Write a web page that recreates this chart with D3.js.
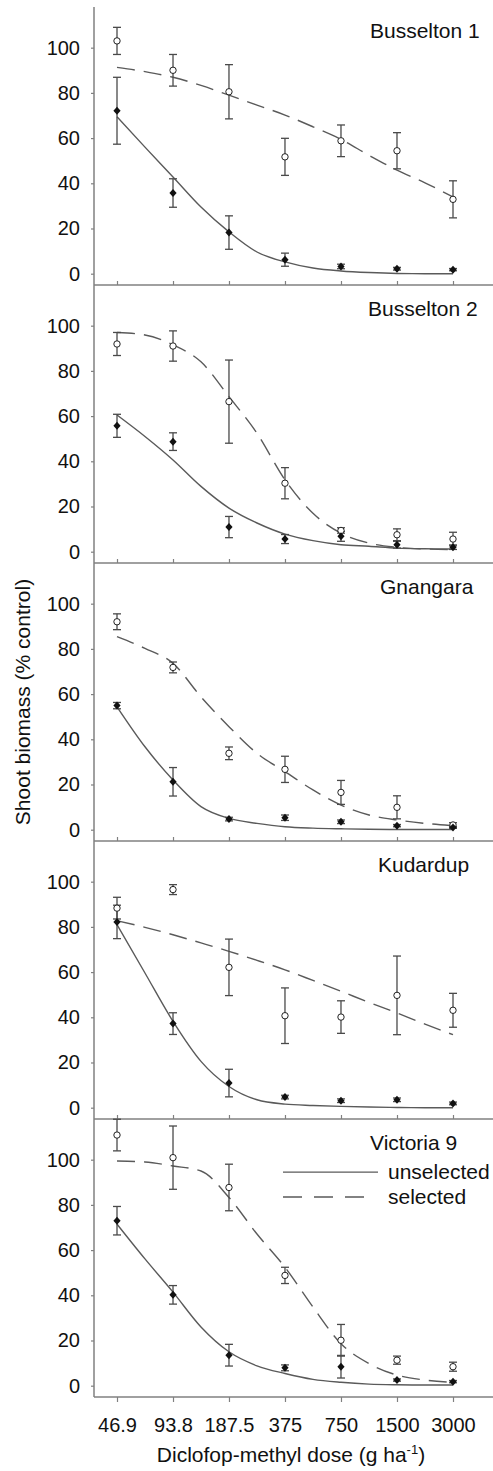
<!DOCTYPE html>
<html>
<head>
<meta charset="utf-8">
<script src="https://cdn.jsdelivr.net/npm/d3@7"></script>
<style>
  html, body { margin: 0; padding: 0; background: #fff; }
  svg { display: block; font-family: "Liberation Sans", Arial, sans-serif; }
</style>
</head>
<body>
<svg id="chart" width="493" height="1471"></svg>
<script>
// ---------------- DATA ----------------
const doses = [46.9, 93.8, 187.5, 375, 750, 1500, 3000];
const doseLabels = ["46.9", "93.8", "187.5", "375", "750", "1500", "3000"];
const populations = ["Busselton 1", "Busselton 2", "Gnangara", "Kudardup", "Victoria 9"];
const yTicks = [0, 20, 40, 60, 80, 100];

// observed means and error (± SE) — selected (open circles)
const selectedMean = [
  [103.0, 90.0, 80.5, 51.7, 58.8, 54.4, 32.9],
  [91.9, 91.0, 66.4, 30.3, 9.4, 7.5, 5.6],
  [92.0, 71.8, 33.8, 26.7, 16.5, 9.9, 2.1],
  [88.3, 96.5, 62.1, 40.7, 40.1, 49.7, 43.1],
  [110.9, 100.9, 87.7, 48.8, 20.1, 11.3, 8.4]
];
const selectedErr = [
  [6.0, 7.0, 12.0, 8.2, 7.0, 8.0, 8.2],
  [5.1, 6.7, 18.4, 6.9, 1.2, 2.6, 3.0],
  [3.5, 2.4, 2.8, 5.8, 5.3, 5.1, 1.0],
  [4.8, 2.2, 12.5, 12.3, 7.2, 17.4, 7.5],
  [7.0, 14.0, 10.3, 3.6, 7.0, 1.8, 2.0]
];
// unselected (filled diamonds)
const unselectedMean = [
  [72.1, 35.7, 18.2, 6.2, 3.2, 2.2, 1.8],
  [55.7, 48.7, 10.9, 5.6, 6.8, 3.1, 2.0],
  [54.9, 21.2, 4.7, 5.3, 3.5, 1.8, 1.0],
  [82.2, 37.2, 10.9, 4.7, 3.1, 3.5, 1.9],
  [73.0, 40.2, 13.5, 7.9, 8.4, 2.5, 1.8]
];
const unselectedErr = [
  [14.8, 6.3, 7.4, 2.9, 1.0, 0.6, 0.5],
  [5.1, 3.9, 4.7, 2.0, 2.2, 1.5, 1.0],
  [1.4, 6.3, 0.8, 1.2, 0.8, 0.5, 0.4],
  [7.4, 4.8, 6.1, 0.8, 0.8, 0.8, 0.6],
  [6.3, 4.1, 4.8, 1.3, 5.0, 0.5, 0.5]
];

// fitted dose-response curves
const curveDoses = [46.9, 66.3, 93.8, 132.6, 187.5, 265.2, 375, 530.3, 750, 1060.7, 1500, 2121.3, 3000];
const selectedFit = [
  [91.3, 89.4, 86.9, 83.3, 79.0, 74.6, 70.2, 65.0, 59.4, 52.4, 45.8, 40.2, 34.0],
  [97.0, 95.9, 91.5, 84.0, 68.6, 52.4, 31.8, 17.0, 8.2, 3.8, 1.9, 1.2, 0.9],
  [85.4, 80.2, 73.6, 58.8, 45.6, 33.8, 25.7, 17.6, 10.9, 6.5, 4.3, 2.8, 1.8],
  [82.7, 79.8, 76.5, 72.9, 69.2, 65.2, 61.0, 56.3, 51.5, 46.6, 41.9, 37.0, 32.3],
  [99.4, 99.0, 97.2, 95.0, 83.3, 67.1, 52.4, 34.8, 18.6, 9.8, 4.7, 2.5, 1.5]
];
const unselectedFit = [
  [69.4, 56.0, 42.8, 29.5, 18.5, 9.6, 5.2, 2.5, 1.2, 0.5, 0.1, 0.0, 0.0],
  [60.5, 51.0, 40.6, 28.9, 19.3, 12.7, 7.8, 4.9, 3.1, 2.4, 1.6, 1.3, 1.2],
  [54.4, 36.7, 22.0, 10.2, 5.0, 2.8, 1.3, 0.7, 0.4, 0.2, 0.1, 0.1, 0.1],
  [81.0, 59.6, 38.2, 20.5, 9.4, 3.5, 1.6, 1.0, 0.6, 0.3, 0.1, 0.0, 0.0],
  [71.5, 56.1, 41.4, 26.0, 15.0, 8.8, 5.4, 2.8, 1.5, 0.7, 0.4, 0.3, 0.3]
];
const legendLabels = ["unselected", "selected"];

// ---------------- LAYOUT ----------------
const W = 493;
const left = 94, right = 493;
const top0 = 7, panelH = 278;
const labelX = [370, 368, 380, 378, 370];
const axisColor = "#808080";
const lineColor = "#5a5a5a";
const errColor = "#4a4a4a";
const dashPattern = "18,9";

const svg = d3.select("#chart");

const x = d3.scaleLog().domain([46.9, 3000]).range([117, 453]);

// y-axis line (continuous)
svg.append("line")
  .attr("x1", left).attr("x2", left)
  .attr("y1", top0).attr("y2", top0 + panelH * populations.length)
  .attr("stroke", axisColor).attr("stroke-width", 1.5);

const diamond = "M0,-4L3.6,0L0,4L-3.6,0Z";

populations.forEach((name, i) => {
  const pTop = top0 + i * panelH;
  const pBot = pTop + panelH;
  const y = d3.scaleLinear().domain([-5, 118]).range([pBot, pTop]);
  const g = svg.append("g");
  const last = i === populations.length - 1;

  // y axis ticks and labels
  const yAx = d3.axisLeft(y).tickValues(yTicks).tickSize(3).tickPadding(11).tickFormat(d3.format("d"));
  const ya = g.append("g").attr("transform", `translate(${left},0)`).call(yAx);
  ya.select(".domain").remove();
  ya.selectAll(".tick line").attr("stroke", axisColor).attr("stroke-width", 1.2);
  ya.selectAll(".tick text").attr("font-size", 20).attr("fill", "#111")
    .attr("font-family", "Liberation Sans, Arial, sans-serif");

  // x axis (baseline of panel)
  g.append("line")
    .attr("x1", left).attr("x2", right)
    .attr("y1", pBot).attr("y2", pBot)
    .attr("stroke", axisColor).attr("stroke-width", 1.5);

  const xAx = (last ? d3.axisBottom(x) : d3.axisTop(x))
    .tickValues(doses)
    .tickSize(last ? 5 : 4)
    .tickPadding(16)
    .tickFormat((d, k) => last ? doseLabels[k] : "");
  const xa = g.append("g").attr("transform", `translate(0,${pBot})`).call(xAx);
  xa.select(".domain").remove();
  xa.selectAll(".tick line").attr("stroke", axisColor).attr("stroke-width", 1.2);
  xa.selectAll(".tick text").attr("font-size", 20).attr("fill", "#111")
    .attr("font-family", "Liberation Sans, Arial, sans-serif");

  // fitted curves
  const line = d3.line()
    .x((d, k) => x(curveDoses[k]))
    .y(d => y(d))
    .curve(d3.curveMonotoneX);

  g.append("path").datum(unselectedFit[i])
    .attr("d", line).attr("fill", "none")
    .attr("stroke", lineColor).attr("stroke-width", 1.4);
  g.append("path").datum(selectedFit[i])
    .attr("d", line).attr("fill", "none")
    .attr("stroke", lineColor).attr("stroke-width", 1.4)
    .attr("stroke-dasharray", dashPattern);

  // error bars
  const drawErr = (means, errs) => {
    means.forEach((m, k) => {
      const cx = x(doses[k]);
      const y1 = y(m + errs[k]), y2 = y(m - errs[k]);
      g.append("line").attr("x1", cx).attr("x2", cx).attr("y1", y1).attr("y2", y2)
        .attr("stroke", errColor).attr("stroke-width", 1.3);
      [y1, y2].forEach(yy => {
        g.append("line").attr("x1", cx - 4).attr("x2", cx + 4).attr("y1", yy).attr("y2", yy)
          .attr("stroke", errColor).attr("stroke-width", 1.3);
      });
    });
  };
  drawErr(selectedMean[i], selectedErr[i]);
  drawErr(unselectedMean[i], unselectedErr[i]);

  // markers
  g.selectAll(".sel").data(selectedMean[i]).enter().append("circle")
    .attr("cx", (d, k) => x(doses[k])).attr("cy", d => y(d)).attr("r", 3.2)
    .attr("fill", "#fff").attr("stroke", "#222").attr("stroke-width", 1);
  g.selectAll(".uns").data(unselectedMean[i]).enter().append("path")
    .attr("d", diamond)
    .attr("transform", (d, k) => `translate(${x(doses[k])},${y(d)})`)
    .attr("fill", "#111");

  // panel label
  g.append("text").attr("x", labelX[i]).attr("y", pTop + 31)
    .attr("font-size", 21).attr("fill", "#111").text(name);

  // legend in last panel
  if (last) {
    const ly = [y(94.5), y(83.5)];
    legendLabels.forEach((lab, k) => {
      g.append("line").attr("x1", 283).attr("x2", k === 0 ? 378 : 370)
        .attr("y1", ly[k]).attr("y2", ly[k])
        .attr("stroke", lineColor).attr("stroke-width", 1.4)
        .attr("stroke-dasharray", k === 0 ? null : "19,12");
      g.append("text").attr("x", 388).attr("y", ly[k] + 7)
        .attr("font-size", 21).attr("fill", "#111").text(lab);
    });
  }
});

// axis titles
svg.append("text")
  .attr("transform", `translate(30,${top0 + panelH * populations.length / 2}) rotate(-90)`)
  .attr("text-anchor", "middle").attr("font-size", 21).attr("fill", "#111")
  .text("Shoot biomass (% control)");

const xt = svg.append("text")
  .attr("x", 291).attr("y", 1462)
  .attr("text-anchor", "middle").attr("font-size", 21).attr("fill", "#111");
xt.append("tspan").text("Diclofop-methyl dose (g ha");
xt.append("tspan").attr("font-size", 13).attr("dy", -8).text("-1");
xt.append("tspan").attr("dy", 8).text(")");
</script>
</body>
</html>
